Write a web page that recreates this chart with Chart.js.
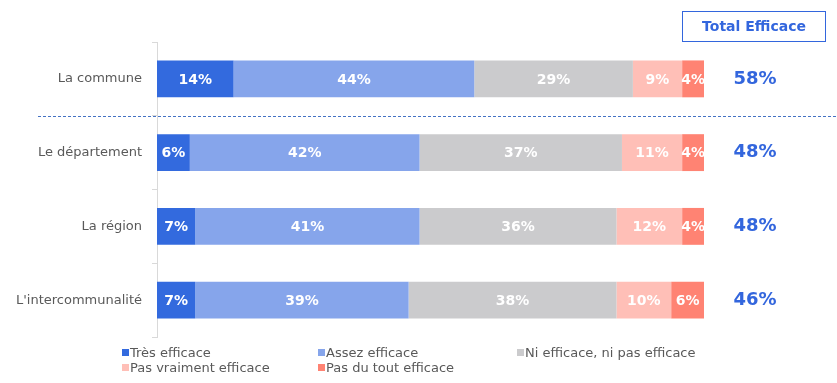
<!DOCTYPE html>
<html>
<head>
<meta charset="utf-8">
<script src="https://cdn.jsdelivr.net/npm/chart.js@4"></script>
<style>
  body { margin: 0; background: #fff; }
  #wrap { position: relative; width: 837px; height: 383px; }
  #legend { position: absolute; left: 122px; top: 345px; font: 13px "DejaVu Sans", sans-serif; color: #595959; }
  #legend .item { position: absolute; white-space: nowrap; line-height: 15px; }
  #legend .sw { display: inline-block; width: 7px; height: 7px; margin-right: 1px; vertical-align: 1px; }
</style>
</head>
<body>
<div id="wrap">
  <canvas id="c" width="837" height="383"></canvas>
  <div id="legend"></div>
</div>
<script>
var categories = ['La commune', 'Le département', 'La région', "L'intercommunalité"];
var seriesNames = ['Très efficace', 'Assez efficace', 'Ni efficace, ni pas efficace', 'Pas vraiment efficace', 'Pas du tout efficace'];
var tresEfficace = [14, 6, 7, 7];
var assezEfficace = [44, 42, 41, 39];
var niEfficace = [29, 37, 36, 38];
var pasVraiment = [9, 11, 12, 10];
var pasDuTout = [4, 4, 4, 6];
var totals = ['58%', '48%', '48%', '46%'];
var colors = ['#336ADE', '#86A5EB', '#CBCBCD', '#FFBFB7', '#FF8373'];

var allValues = [tresEfficace, assezEfficace, niEfficace, pasVraiment, pasDuTout];
var blue = '#3366DD';

var datasets = allValues.map(function (vals, i) {
    return {
        label: seriesNames[i],
        data: vals,
        backgroundColor: colors[i],
        borderWidth: 0,
        categoryPercentage: 1,
        barPercentage: 0.5
    };
});

var extras = {
    id: 'extras',
    afterDatasetsDraw: function (chart) {
        var ctx = chart.ctx;
        var ys = chart.scales.y;
        ctx.save();
        // values inside the segments
        ctx.font = 'bold 14px "DejaVu Sans", sans-serif';
        ctx.fillStyle = '#fff';
        ctx.textAlign = 'center';
        ctx.textBaseline = 'middle';
        chart.data.datasets.forEach(function (ds, i) {
            chart.getDatasetMeta(i).data.forEach(function (bar, j) {
                ctx.fillText(ds.data[j] + '%', (bar.x + bar.base) / 2, bar.y + 1);
            });
        });
        // totals column
        ctx.font = 'bold 18px "DejaVu Sans", sans-serif';
        ctx.fillStyle = blue;
        categories.forEach(function (c, j) {
            ctx.fillText(totals[j], 755, ys.getPixelForValue(j));
        });
        // header box
        ctx.strokeStyle = blue;
        ctx.lineWidth = 1;
        ctx.strokeRect(682.5, 11.5, 143, 30);
        ctx.font = 'bold 14px "DejaVu Sans", sans-serif';
        ctx.fillText('Total Efficace', 754, 27);
        // dashed separator between commune and the others
        var sy = Math.round((ys.getPixelForValue(0) + ys.getPixelForValue(1)) / 2) + 0.5;
        ctx.setLineDash([3, 2]);
        ctx.strokeStyle = '#4472C4';
        ctx.beginPath();
        ctx.moveTo(38, sy);
        ctx.lineTo(837, sy);
        ctx.stroke();
        ctx.restore();
    }
};

new Chart(document.getElementById('c'), {
    type: 'bar',
    data: { labels: categories, datasets: datasets },
    plugins: [extras],
    options: {
        indexAxis: 'y',
        responsive: false,
        animation: false,
        layout: { padding: { left: 0, right: 133, top: 42, bottom: 46 } },
        plugins: { legend: { display: false }, tooltip: { enabled: false } },
        scales: {
            x: { stacked: true, min: 0, max: 100, display: false },
            y: {
                stacked: true,
                afterFit: function (s) { s.width = 157; },
                border: { color: '#D9D9D9' },
                grid: { drawOnChartArea: false, color: '#D9D9D9', tickLength: 5, offset: true },
                ticks: { color: '#595959', padding: 10, font: { family: '"DejaVu Sans", sans-serif', size: 13 } }
            }
        }
    }
});

// legend laid out in three columns like the original
var legendPos = [[0, 0], [196, 0], [395, 0], [0, 15], [196, 15]];
var leg = document.getElementById('legend');
seriesNames.forEach(function (n, i) {
    var d = document.createElement('div');
    d.className = 'item';
    d.style.left = legendPos[i][0] + 'px';
    d.style.top = legendPos[i][1] + 'px';
    d.innerHTML = '<span class="sw" style="background:' + colors[i] + '"></span>' + n;
    leg.appendChild(d);
});
</script>
</body>
</html>
